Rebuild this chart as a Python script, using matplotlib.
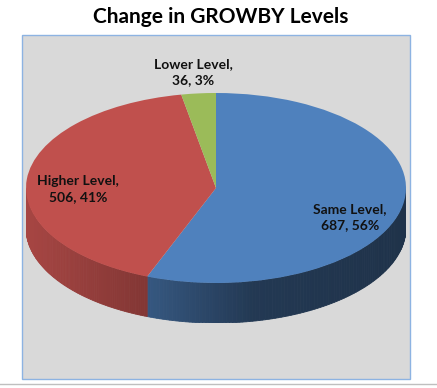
import numpy as np
import matplotlib
matplotlib.use("Agg")
import matplotlib.pyplot as plt
from matplotlib.patches import Rectangle, Polygon

# data
categories = ["Same Level", "Higher Level", "Lower Level"]
counts = [687, 506, 36]
colors = ["#4F81BD", "#C0504D", "#9BBB59"]

# label centres in pie-axes units (x: -1..1 across, y: -1..1 top face)
label_xy = [(0.705, -0.305), (-0.725, -0.01), (-0.12, 1.22)]

plt.rcParams['font.family'] = ['Lato', 'DejaVu Sans']

fig = plt.figure(figsize=(4.37, 3.88), dpi=100)

# background / plot area
bg = fig.add_axes([0, 0, 1, 1])
bg.set_xlim(0, 437)
bg.set_ylim(388, 0)
bg.axis("off")
bg.add_patch(Rectangle((22, 35), 388, 344, facecolor="#D9D9D9",
                       edgecolor="#8DB3E2", lw=1))
bg.plot([0, 437], [383.5, 383.5], color="#BFBFBF", lw=1)

fig.text(0.506, 1 - 17 / 388, "Change in GROWBY Levels", ha="center",
         va="center", fontsize=15, fontweight="bold")

# pie axes: top face ellipse + side depth
depth = 40 / 95
ax = fig.add_axes([26 / 437, 65 / 388, 380 / 437, 230 / 388])
ax.axis("off")

total = sum(counts)
fracs = np.array(counts) / total
# clockwise from 12 o'clock
starts = 90 - 360 * np.concatenate([[0], np.cumsum(fracs)[:-1]])
ends = starts - 360 * fracs


def shade(x):
    # side gets darker towards the right, like excel's 3d lighting
    return np.interp(x, [-1, -0.36, 0.2, 1], [0.87, 0.68, 0.44, 0.39])


# side walls, front half only
for s, e, c in zip(starts, ends, colors):
    phi = np.linspace(e, s, 200)
    phi = phi[np.sin(np.radians(phi)) <= 0.0001]
    if len(phi) < 2:
        continue
    rgb = np.array(matplotlib.colors.to_rgb(c))
    for p0, p1 in zip(phi[:-1], phi[1:]):
        x0, x1 = np.cos(np.radians([p0, p1]))
        y0, y1 = np.sin(np.radians([p0, p1]))
        col = np.clip(rgb * shade((x0 + x1) / 2), 0, 1)
        ax.add_patch(Polygon([(x0, y0), (x1, y1), (x1, y1 - depth), (x0, y0 - depth)],
                             closed=True, facecolor=col, edgecolor=col, lw=0.6))

# top face
ax.pie(counts, colors=colors, startangle=90, counterclock=False, radius=1,
       wedgeprops=dict(linewidth=0))
ax.set_aspect("auto")
ax.set_xlim(-1, 1)
ax.set_ylim(-1 - depth, 1)

for cat, n, f, (lx, ly) in zip(categories, counts, fracs, label_xy):
    ax.text(lx, ly, f"{cat},\n{n}, {round(f * 100)}%",
            ha="center", va="center", fontsize=10, fontweight="bold",
            linespacing=1.45, color="#111111")

fig.savefig("out.png", dpi=100)
